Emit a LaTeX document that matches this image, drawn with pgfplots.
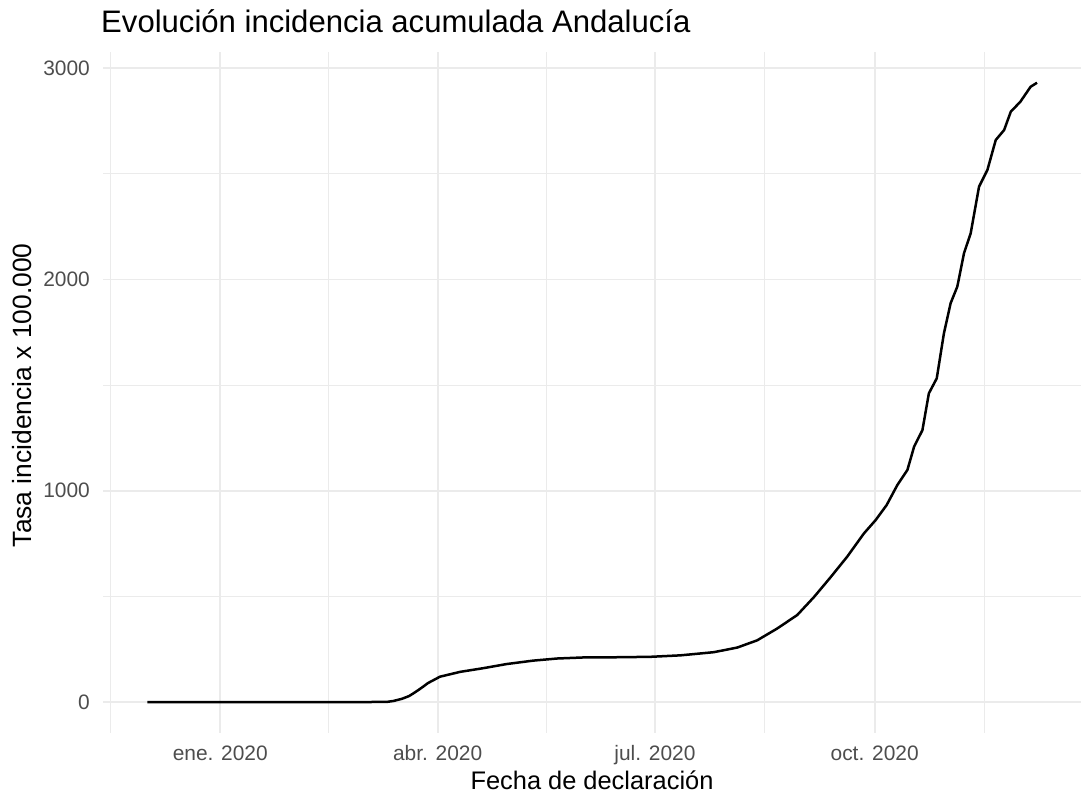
\documentclass[border=0pt]{standalone}
\usepackage{fontspec}
\setmainfont{Liberation Sans}
\usepackage{pgfplots}
\pgfplotsset{compat=1.18}
\definecolor{gridc}{HTML}{EBEBEB}
\definecolor{tickc}{HTML}{4D4D4D}
\begin{document}
\begin{tikzpicture}
\path[use as bounding box] (0,0) rectangle (1081bp,796bp);
\begin{axis}[
  at={(103bp,63bp)}, anchor=south west,
  scale only axis, width=978bp, height=681bp,
  xmin=-49.1, xmax=360.4, ymin=-146.5, ymax=3076.5,
  axis line style={draw=none}, tick style={draw=none},
  xtick={0,91,182,274},
  xticklabels={ene. 2020, abr. 2020, jul. 2020, oct. 2020},
  minor xtick={-46,45.5,136.5,228,320},
  ytick={0,1000,2000,3000},
  yticklabels={0,1000,2000,3000},
  minor ytick={500,1500,2500},
  grid=both,
  major grid style={draw=gridc, line width=1.8bp},
  minor grid style={draw=gridc, line width=1.1bp},
  ticklabel style={font=\fontsize{21}{25}\selectfont, text=tickc, inner sep=0pt},
  xticklabel style={anchor=base, yshift=-28bp},
  yticklabel style={anchor=east, xshift=-13bp},
  xlabel={Fecha de declaración},
  xlabel style={at={(axis description cs:0.5,-0.0827)}, anchor=base, inner sep=0pt, font=\fontsize{25.5}{30}\selectfont},
  ylabel={Tasa incidencia x 100.000},
  ylabel style={at={(axis description cs:-0.0729,0.496)}, anchor=base, rotate=0, inner sep=0pt, font=\fontsize{26.5}{32}\selectfont},
  title={Evolución incidencia acumulada Andalucía},
  title style={at={(axis description cs:-0.002,1.0205)}, anchor=base west, inner sep=0pt, font=\fontsize{31.2}{37}\selectfont},
  clip=false,
]
\addplot[black, line width=2.5bp, line join=round] table {
x y
-30.5 0
-20 0
0 0
20 0
40 0
60 0
68 0.5
70 1
72.5 5
76 15
79 28
81 42
84 65
87 90
92 120
100.5 143
110 160
120 180
131 196
141 206
152 211
166 212
180 214
192.7 221
206.7 236
216.5 258
224.8 292
233.2 348
241.6 412
248.6 497
255.5 590
262.5 688
269.5 798
274.4 861
279 932
283.5 1027
287.7 1098
290.5 1208
294 1287
296.7 1461
300 1532
303 1745
305.8 1887
308.6 1966
311.4 2124
314.2 2218
317.7 2439
321.2 2518
324.7 2660
328.2 2707
331 2794
335 2841
339.3 2912
342 2931
};
\end{axis}
\end{tikzpicture}
\end{document}
